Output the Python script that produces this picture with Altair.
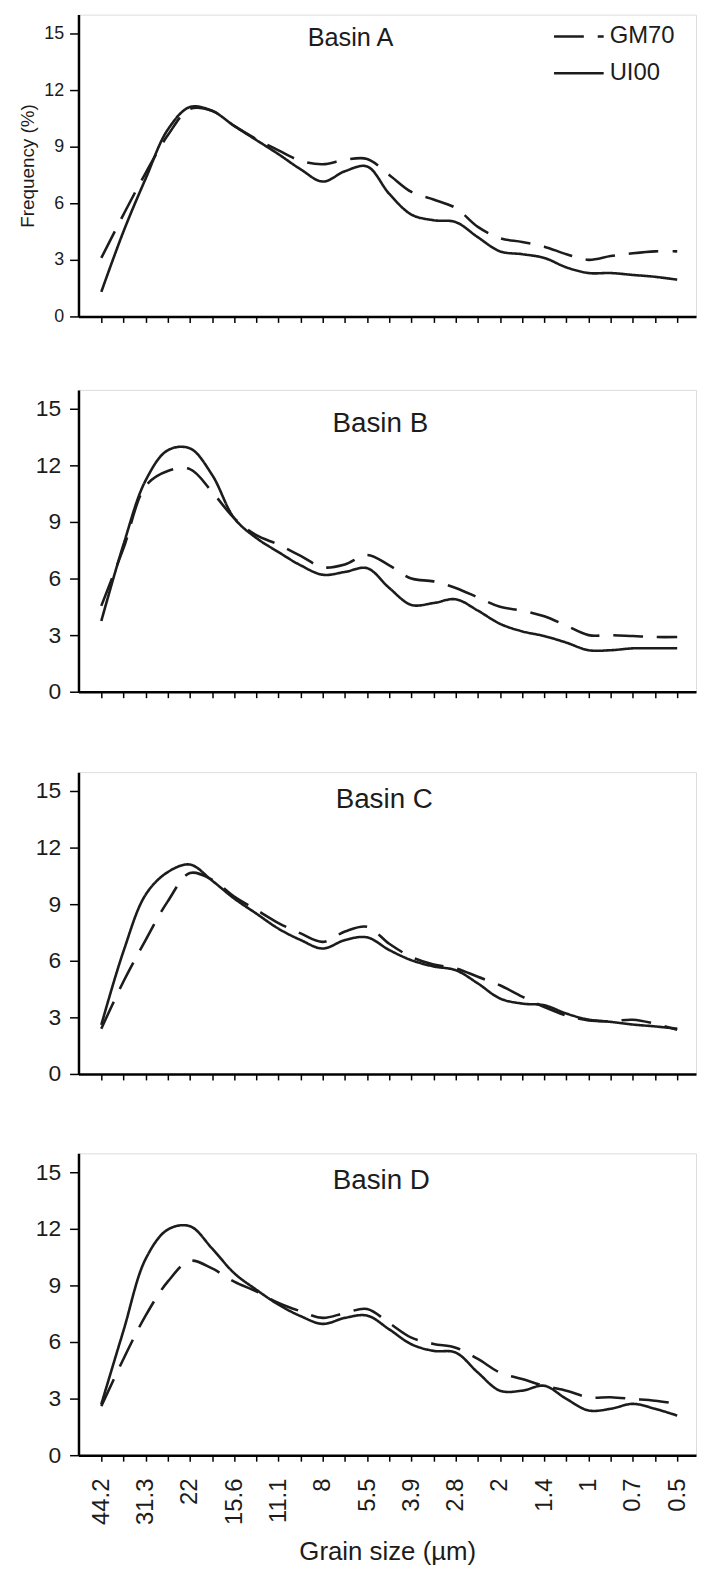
import json
import altair as alt
import pandas as pd

# ---------------- data ----------------
GRAIN_LABELS = ["44.2", "31.3", "22", "15.6", "11.1", "8", "5.5",
                "3.9", "2.8", "2", "1.4", "1", "0.7", "0.5"]
SERIES = ["GM70", "UI00"]
BASINS = ["Basin A", "Basin B", "Basin C", "Basin D"]
Y_TICKS = [0, 3, 6, 9, 12, 15]

A_GM70 = [3.1, 5.4, 7.6, 9.6, 11.0, 10.9, 10.1, 9.4, 8.8, 8.25, 8.07, 8.3, 8.35,
          7.5, 6.6, 6.2, 5.75, 4.75, 4.15, 3.95, 3.7, 3.3, 3.0, 3.2, 3.35, 3.45, 3.45]
A_UI00 = [1.3, 4.5, 7.3, 9.9, 11.1, 10.9, 10.1, 9.35, 8.6, 7.8, 7.15, 7.7, 7.95,
          6.5, 5.4, 5.1, 5.0, 4.2, 3.45, 3.3, 3.1, 2.6, 2.3, 2.3, 2.2, 2.1, 1.95]

B_GM70 = [4.55, 7.6, 10.9, 11.7, 11.8, 10.6, 9.2, 8.3, 7.8, 7.2, 6.6, 6.75, 7.25,
          6.7, 6.0, 5.85, 5.5, 5.0, 4.5, 4.3, 4.0, 3.5, 3.0, 3.0, 2.95, 2.9, 2.9]
B_UI00 = [3.75, 7.8, 11.2, 12.8, 12.9, 11.5, 9.2, 8.15, 7.4, 6.7, 6.2, 6.35, 6.55,
          5.5, 4.6, 4.7, 4.9, 4.3, 3.6, 3.2, 2.95, 2.6, 2.2, 2.2, 2.3, 2.3, 2.3]

C_GM70 = [2.4, 4.9, 7.1, 9.15, 10.65, 10.3, 9.4, 8.7, 8.0, 7.45, 7.0, 7.55, 7.8,
          6.9, 6.2, 5.8, 5.6, 5.15, 4.7, 4.1, 3.55, 3.1, 2.84, 2.8, 2.87, 2.66, 2.34]
C_UI00 = [2.6, 6.5, 9.5, 10.7, 11.1, 10.25, 9.3, 8.5, 7.7, 7.1, 6.65, 7.1, 7.24,
          6.57, 6.03, 5.7, 5.5, 4.8, 4.0, 3.73, 3.64, 3.2, 2.88, 2.76, 2.62, 2.52, 2.4]

D_GM70 = [2.6, 5.1, 7.4, 9.2, 10.3, 9.9, 9.2, 8.68, 8.07, 7.63, 7.28, 7.54, 7.75,
          7.0, 6.23, 5.9, 5.7, 5.1, 4.38, 4.04, 3.68, 3.42, 3.07, 3.07, 2.98, 2.89, 2.72]
D_UI00 = [2.7, 6.6, 10.4, 11.96, 12.14, 10.96, 9.65, 8.77, 7.98, 7.37, 6.96, 7.28, 7.4,
          6.67, 5.88, 5.53, 5.44, 4.38, 3.42, 3.42, 3.68, 2.98, 2.37, 2.46, 2.72, 2.46, 2.1]

PANEL_DATA = [(A_GM70, A_UI00), (B_GM70, B_UI00), (C_GM70, C_UI00), (D_GM70, D_UI00)]

# ---------------- layout / style ----------------
W, H = 622, 304
N = len(A_GM70)
FONT = "Liberation Sans"
INK = "#1c1c1c"
DASH_RANGE = [[30, 14], [1, 0]]

TITLE_POS = [(274, 24, 25.5), (304, 34, 28), (308, 28, 28), (305, 28, 28)]

label_expr = ("datum.value % 2 === 0 ? " + json.dumps(GRAIN_LABELS)
              + "[datum.value / 2] : ''")


def make_df(gm, ui):
    rows = []
    for i, (g, u) in enumerate(zip(gm, ui)):
        rows.append({"idx": i, "series": SERIES[0], "freq": g})
        rows.append({"idx": i, "series": SERIES[1], "freq": u})
    return pd.DataFrame(rows)


def panel(k):
    first = k == 0
    last = k == len(BASINS) - 1
    df = make_df(*PANEL_DATA[k])

    x_axis_kw = dict(values=list(range(N)), tickSize=6, tickWidth=1.5,
                     tickColor="black", domainColor="black", domainWidth=2.5,
                     grid=False)
    if last:
        x_axis_kw.update(labels=True, labelExpr=label_expr, labelAngle=-90,
                         labelFontSize=24, labelFont=FONT, labelColor=INK,
                         labelPadding=17, labelOverlap=False,
                         title="Grain size (µm)", titleFontSize=26,
                         titleFont=FONT, titleFontWeight="normal",
                         titleColor=INK, titlePadding=14)
    else:
        x_axis_kw.update(labels=False, title=None)

    y_axis_kw = dict(values=Y_TICKS, tickSize=9, tickWidth=1.5, tickColor="black",
                     domainColor="black", domainWidth=2.5, grid=False,
                     labelFont=FONT, labelColor=INK,
                     labelFontSize=18 if first else 23,
                     labelPadding=6 if first else 9)
    if first:
        y_axis_kw.update(title="Frequency (%)", titleFontSize=19, titleFont=FONT,
                         titleFontWeight="normal", titleColor=INK, titlePadding=6)
    else:
        y_axis_kw.update(title=None)

    x = alt.X("idx:Q", scale=alt.Scale(domain=[-1.03, 26.85], nice=False, zero=False),
              axis=alt.Axis(**x_axis_kw))
    y = alt.Y("freq:Q", scale=alt.Scale(domain=[0, 16], nice=False),
              axis=alt.Axis(**y_axis_kw))

    lines = alt.Chart(df).mark_line(
        interpolate="catmull-rom", strokeWidth=2.6, color=INK
    ).encode(
        x=x, y=y,
        detail="series:N",
        strokeDash=alt.StrokeDash("series:N",
                                  scale=alt.Scale(domain=SERIES, range=DASH_RANGE),
                                  legend=None),
    )

    tx, ty, tsize = TITLE_POS[k]
    title = alt.Chart(pd.DataFrame({"t": [BASINS[k]]})).mark_text(
        font=FONT, fontSize=tsize, color=INK, align="center", baseline="middle"
    ).encode(text="t:N", x=alt.value(tx), y=alt.value(ty))

    layers = [lines, title]

    if first:
        for s, ly in zip(SERIES, [22, 59]):
            ldf = pd.DataFrame({"series": [s]})
            rule = alt.Chart(ldf).mark_rule(strokeWidth=2.6, color=INK).encode(
                x=alt.value(479), x2=alt.value(529), y=alt.value(ly),
                strokeDash=alt.StrokeDash("series:N",
                                          scale=alt.Scale(domain=SERIES, range=DASH_RANGE),
                                          legend=None),
            )
            txt = alt.Chart(ldf).mark_text(
                font=FONT, fontSize=24, color=INK, align="left", baseline="middle"
            ).encode(text="series:N", x=alt.value(535), y=alt.value(ly))
            layers += [rule, txt]

    return alt.layer(*layers).properties(width=W, height=H)


panels = [panel(k) for k in range(len(BASINS))]
top_pair = alt.vconcat(panels[0], panels[1], spacing=63)
bottom_pair = alt.vconcat(panels[2], panels[3], spacing=66)

chart = alt.vconcat(top_pair, bottom_pair, spacing=67).properties(
    padding={"left": 10, "top": 0, "right": 2, "bottom": 2}
).configure_view(
    stroke="#333333", strokeWidth=2
).configure(background="white")

chart.save("out.html", embed_options={"renderer": "svg", "actions": False})
